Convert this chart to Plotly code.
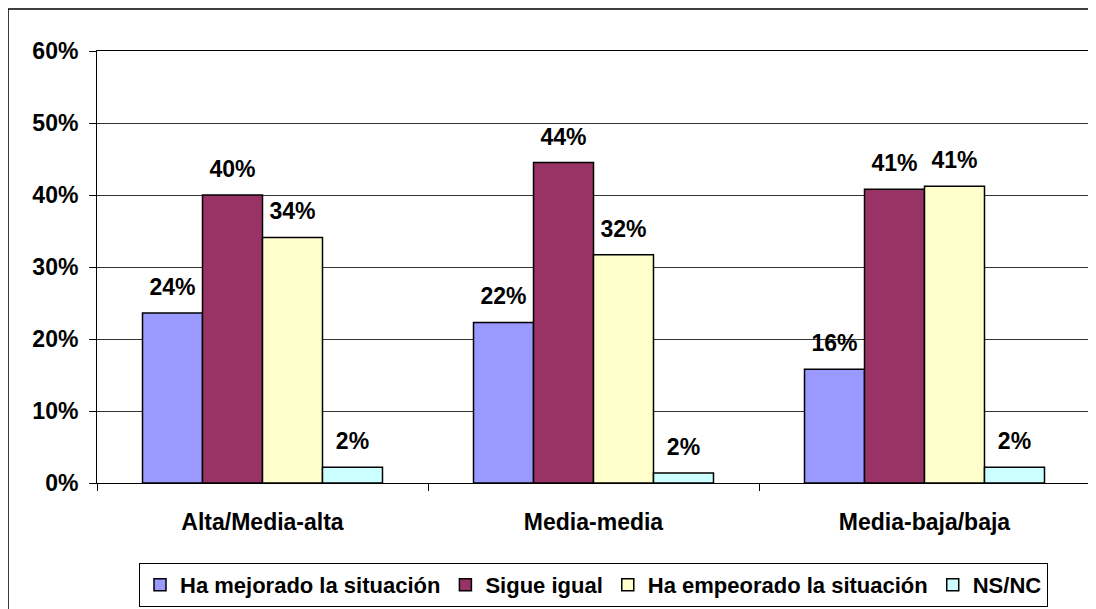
import plotly.graph_objects as go

categories = ["Alta/Media-alta", "Media-media", "Media-baja/baja"]
series_names = ["Ha mejorado la situación", "Sigue igual", "Ha empeorado la situación", "NS/NC"]
mejorado = [23.6, 22.3, 15.8]
igual = [40.0, 44.5, 40.8]
empeorado = [34.1, 31.7, 41.2]
nsnc = [2.2, 1.4, 2.2]
mejorado_lbl = ["24%", "22%", "16%"]
igual_lbl = ["40%", "44%", "41%"]
empeorado_lbl = ["34%", "32%", "41%"]
nsnc_lbl = ["2%", "2%", "2%"]
y_tickvals = [0, 10, 20, 30, 40, 50, 60]
y_ticktext = ["0%", "10%", "20%", "30%", "40%", "50%", "60%"]

colors = ["#9999FF", "#993366", "#FFFFCC", "#CCFFFF"]
values = [mejorado, igual, empeorado, nsnc]
labels = [mejorado_lbl, igual_lbl, empeorado_lbl, nsnc_lbl]

FONT = "Liberation Sans, Arial, sans-serif"

fig = go.Figure()
for i, (name, vals, col) in enumerate(zip(series_names, values, colors)):
    fig.add_trace(go.Bar(
        x=categories, y=vals, name=name, offsetgroup=str(i),
        marker=dict(color=col, line=dict(color="black", width=1.5)),
        hoverinfo="skip",
    ))
for i, (vals, lbl) in enumerate(zip(values, labels)):
    fig.add_trace(go.Scatter(
        x=categories, y=vals, text=lbl, mode="markers+text", offsetgroup=str(i),
        textposition="top center",
        marker=dict(size=18, color="rgba(0,0,0,0)"),
        textfont=dict(family=FONT, size=23, color="black", weight="bold"),
        showlegend=False, hoverinfo="skip", cliponaxis=False,
    ))

fig.update_layout(
    width=1096, height=609,
    margin=dict(l=89, r=14, t=43, b=134, autoexpand=False),
    paper_bgcolor="white", plot_bgcolor="white",
    barmode="group", bargap=0.275, bargroupgap=0,
    scattermode="group", scattergap=0.275,
    font=dict(family=FONT, size=23, color="black", weight="bold"),
    showlegend=True,
    legend=dict(
        orientation="h", x=0.5, xanchor="center", y=-0.185, yanchor="top",
        bordercolor="black", borderwidth=1, itemwidth=30,
        font=dict(family=FONT, size=22, color="black", weight="bold"),
        traceorder="normal",
    ),
    xaxis=dict(
        type="category", showline=True, linecolor="black", linewidth=1, mirror=True,
        ticks="outside", ticklen=7, tickcolor="black", tickson="boundaries",
        tickfont=dict(family=FONT, size=23, color="black", weight="bold"),
        ticklabelstandoff=18, showgrid=False, automargin=False,
    ),
    yaxis=dict(
        range=[0, 60], tickvals=y_tickvals, ticktext=y_ticktext,
        showline=True, linecolor="black", linewidth=1, mirror=True,
        ticks="outside", ticklen=7, tickcolor="black",
        showgrid=True, gridcolor="#333333", gridwidth=1,
        tickfont=dict(family=FONT, size=23, color="black", weight="bold"),
        ticklabelstandoff=6, zeroline=False, automargin=False,
    ),
    shapes=[dict(
        type="rect", xref="paper", yref="paper",
        x0=-0.0896, x1=1.03, y0=-0.34, y1=1.0972,
        line=dict(color="black", width=1.5), fillcolor="rgba(0,0,0,0)", layer="below",
    )],
)

fig.write_html("out.html")
